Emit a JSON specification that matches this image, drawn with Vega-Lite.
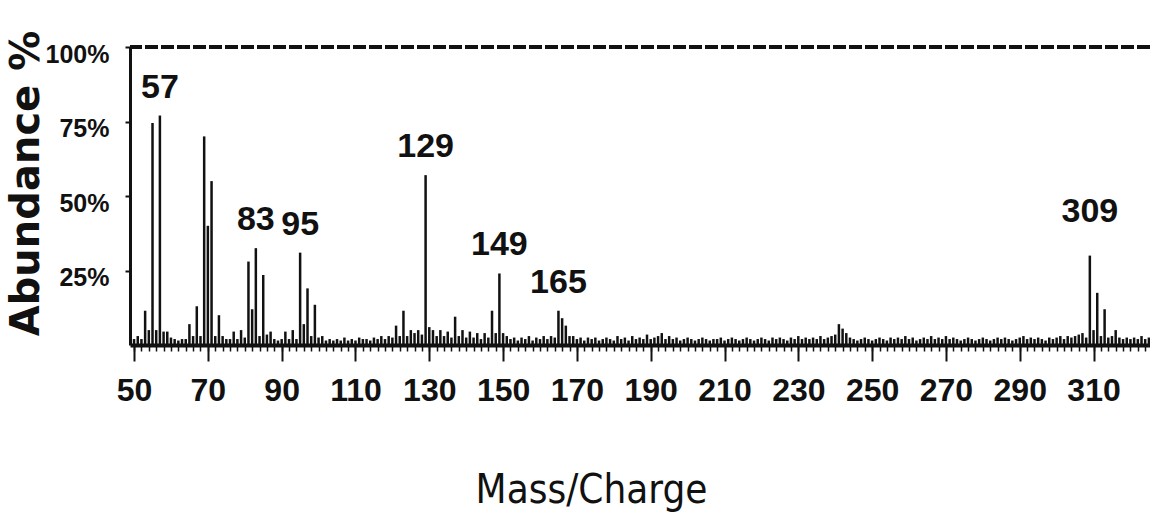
{
"$schema": "https://vega.github.io/schema/vega-lite/v6.json",
"width": 1020,
"height": 298,
"autosize": "none",
"padding": {"left": 130, "top": 47, "right": 0, "bottom": 167},
"background": "white",
"config": {"view": {"stroke": null}, "axis": {"grid": false}},
"data": {"values": [
{"mz":49,"ab":1.5},{"mz":50,"ab":2},{"mz":51,"ab":3},{"mz":52,"ab":2},{"mz":53,"ab":11.5},{"mz":54,"ab":5},{"mz":55,"ab":74.5},{"mz":56,"ab":5},{"mz":57,"ab":77,"label":"57"},{"mz":58,"ab":4.5},{"mz":59,"ab":4.5},
{"mz":60,"ab":2.5},{"mz":61,"ab":2},{"mz":62,"ab":1.5},{"mz":63,"ab":2},{"mz":64,"ab":2},{"mz":65,"ab":7},{"mz":66,"ab":3},{"mz":67,"ab":13},{"mz":68,"ab":3},{"mz":69,"ab":70},
{"mz":70,"ab":40},{"mz":71,"ab":55},{"mz":72,"ab":3},{"mz":73,"ab":10},{"mz":74,"ab":3},{"mz":75,"ab":2},{"mz":76,"ab":2},{"mz":77,"ab":4.5},{"mz":78,"ab":2},{"mz":79,"ab":5},
{"mz":80,"ab":2.5},{"mz":81,"ab":28},{"mz":82,"ab":12},{"mz":83,"ab":32.5,"label":"83"},{"mz":84,"ab":3},{"mz":85,"ab":23.5},{"mz":86,"ab":3.5},{"mz":87,"ab":4.5},{"mz":88,"ab":2},{"mz":89,"ab":1.5},
{"mz":90,"ab":2},{"mz":91,"ab":4.5},{"mz":92,"ab":2},{"mz":93,"ab":5},{"mz":94,"ab":2},{"mz":95,"ab":31,"label":"95"},{"mz":96,"ab":7},{"mz":97,"ab":19},{"mz":98,"ab":3},{"mz":99,"ab":13.5},
{"mz":100,"ab":2.5},{"mz":101,"ab":3},{"mz":102,"ab":1.5},{"mz":103,"ab":2},{"mz":104,"ab":1.5},{"mz":105,"ab":2},{"mz":106,"ab":1.5},{"mz":107,"ab":2.5},{"mz":108,"ab":1.5},{"mz":109,"ab":2},
{"mz":110,"ab":1.5},{"mz":111,"ab":2.5},{"mz":112,"ab":2},{"mz":113,"ab":2},{"mz":114,"ab":1.5},{"mz":115,"ab":2.5},{"mz":116,"ab":2},{"mz":117,"ab":3},{"mz":118,"ab":2},{"mz":119,"ab":3},
{"mz":120,"ab":2.5},{"mz":121,"ab":6.5},{"mz":122,"ab":3},{"mz":123,"ab":11.5},{"mz":124,"ab":3},{"mz":125,"ab":5},{"mz":126,"ab":4},{"mz":127,"ab":5},{"mz":128,"ab":3.5},{"mz":129,"ab":57,"label":"129"},
{"mz":130,"ab":6},{"mz":131,"ab":5},{"mz":132,"ab":3},{"mz":133,"ab":5},{"mz":134,"ab":3},{"mz":135,"ab":4.5},{"mz":136,"ab":2.5},{"mz":137,"ab":9.5},{"mz":138,"ab":3},{"mz":139,"ab":5},
{"mz":140,"ab":2.5},{"mz":141,"ab":4.5},{"mz":142,"ab":2.5},{"mz":143,"ab":4},{"mz":144,"ab":2},{"mz":145,"ab":4},{"mz":146,"ab":2.5},{"mz":147,"ab":11.5},{"mz":148,"ab":4},{"mz":149,"ab":24,"label":"149"},
{"mz":150,"ab":4},{"mz":151,"ab":3},{"mz":152,"ab":2},{"mz":153,"ab":2.5},{"mz":154,"ab":1.5},{"mz":155,"ab":2.5},{"mz":156,"ab":2},{"mz":157,"ab":3},{"mz":158,"ab":1.5},{"mz":159,"ab":2.5},
{"mz":160,"ab":2},{"mz":161,"ab":3},{"mz":162,"ab":2},{"mz":163,"ab":3},{"mz":164,"ab":2.5},{"mz":165,"ab":11.5,"label":"165"},{"mz":166,"ab":9},{"mz":167,"ab":6.5},{"mz":168,"ab":3},{"mz":169,"ab":3},
{"mz":170,"ab":2},{"mz":171,"ab":2.5},{"mz":172,"ab":1.5},{"mz":173,"ab":2.5},{"mz":174,"ab":2},{"mz":175,"ab":2.5},{"mz":176,"ab":1.5},{"mz":177,"ab":2},{"mz":178,"ab":2.5},{"mz":179,"ab":2},
{"mz":180,"ab":1.5},{"mz":181,"ab":3},{"mz":182,"ab":2},{"mz":183,"ab":2.5},{"mz":184,"ab":1.5},{"mz":185,"ab":3},{"mz":186,"ab":2},{"mz":187,"ab":2.5},{"mz":188,"ab":2},{"mz":189,"ab":3.5},
{"mz":190,"ab":2},{"mz":191,"ab":2.5},{"mz":192,"ab":3},{"mz":193,"ab":4},{"mz":194,"ab":2},{"mz":195,"ab":3},{"mz":196,"ab":2},{"mz":197,"ab":2.5},{"mz":198,"ab":1.5},{"mz":199,"ab":2},
{"mz":200,"ab":2.5},{"mz":201,"ab":2},{"mz":202,"ab":1.5},{"mz":203,"ab":2},{"mz":204,"ab":2.5},{"mz":205,"ab":2},{"mz":206,"ab":1.5},{"mz":207,"ab":2},{"mz":208,"ab":2},{"mz":209,"ab":2.5},
{"mz":210,"ab":1.5},{"mz":211,"ab":2},{"mz":212,"ab":2.5},{"mz":213,"ab":2},{"mz":214,"ab":1.5},{"mz":215,"ab":2},{"mz":216,"ab":2.5},{"mz":217,"ab":2},{"mz":218,"ab":1.5},{"mz":219,"ab":2},
{"mz":220,"ab":2.5},{"mz":221,"ab":2},{"mz":222,"ab":1.5},{"mz":223,"ab":2.5},{"mz":224,"ab":2},{"mz":225,"ab":2.5},{"mz":226,"ab":2},{"mz":227,"ab":1.5},{"mz":228,"ab":2.5},{"mz":229,"ab":2},
{"mz":230,"ab":3},{"mz":231,"ab":2},{"mz":232,"ab":2.5},{"mz":233,"ab":2},{"mz":234,"ab":2.5},{"mz":235,"ab":2},{"mz":236,"ab":3},{"mz":237,"ab":2},{"mz":238,"ab":2.5},{"mz":239,"ab":3},
{"mz":240,"ab":3.5},{"mz":241,"ab":7},{"mz":242,"ab":5.5},{"mz":243,"ab":4},{"mz":244,"ab":2.5},{"mz":245,"ab":2},{"mz":246,"ab":1.5},{"mz":247,"ab":2},{"mz":248,"ab":2.5},{"mz":249,"ab":2},
{"mz":250,"ab":1.5},{"mz":251,"ab":2},{"mz":252,"ab":2.5},{"mz":253,"ab":2},{"mz":254,"ab":1.5},{"mz":255,"ab":2.5},{"mz":256,"ab":2},{"mz":257,"ab":2.5},{"mz":258,"ab":2},{"mz":259,"ab":3},
{"mz":260,"ab":2},{"mz":261,"ab":2.5},{"mz":262,"ab":1.5},{"mz":263,"ab":2},{"mz":264,"ab":2.5},{"mz":265,"ab":2},{"mz":266,"ab":3},{"mz":267,"ab":2},{"mz":268,"ab":2.5},{"mz":269,"ab":2},
{"mz":270,"ab":3},{"mz":271,"ab":2},{"mz":272,"ab":2.5},{"mz":273,"ab":2},{"mz":274,"ab":1.5},{"mz":275,"ab":2},{"mz":276,"ab":2.5},{"mz":277,"ab":2},{"mz":278,"ab":1.5},{"mz":279,"ab":2},
{"mz":280,"ab":2.5},{"mz":281,"ab":2},{"mz":282,"ab":1.5},{"mz":283,"ab":2},{"mz":284,"ab":2.5},{"mz":285,"ab":2},{"mz":286,"ab":2.5},{"mz":287,"ab":2},{"mz":288,"ab":1.5},{"mz":289,"ab":2},
{"mz":290,"ab":2.5},{"mz":291,"ab":3},{"mz":292,"ab":2},{"mz":293,"ab":2.5},{"mz":294,"ab":2},{"mz":295,"ab":2.5},{"mz":296,"ab":2},{"mz":297,"ab":1.5},{"mz":298,"ab":2.5},{"mz":299,"ab":2},
{"mz":300,"ab":2.5},{"mz":301,"ab":3},{"mz":302,"ab":2},{"mz":303,"ab":3},{"mz":304,"ab":2.5},{"mz":305,"ab":3},{"mz":306,"ab":3.5},{"mz":307,"ab":4},{"mz":308,"ab":2.5},{"mz":309,"ab":30,"label":"309"},
{"mz":310,"ab":5},{"mz":311,"ab":17.5},{"mz":312,"ab":3},{"mz":313,"ab":12},{"mz":314,"ab":2.5},{"mz":315,"ab":3},{"mz":316,"ab":5},{"mz":317,"ab":2.5},{"mz":318,"ab":2},{"mz":319,"ab":2.5},
{"mz":320,"ab":2},{"mz":321,"ab":2.5},{"mz":322,"ab":2},{"mz":323,"ab":3},{"mz":324,"ab":2},{"mz":325,"ab":2.5}
]},
"layer": [
{"mark": {"type": "rule", "opacity": 0},
 "encoding": {
  "x": {"field": "mz", "type": "quantitative", "scale": {"domain": [48.9, 325.3], "nice": false, "zero": false},
        "axis": {"orient": "bottom", "tickCount": 138, "labels": false, "domain": false, "title": null, "tickSize": 6, "tickWidth": 1.5, "tickColor": "#111"}},
  "y": {"field": "ab", "type": "quantitative"},
  "y2": {"datum": 0}}},
{"mark": {"type": "rule", "color": "#111", "strokeWidth": 2.5},
 "encoding": {
  "x": {"field": "mz", "type": "quantitative", "scale": {"domain": [48.9, 325.3], "nice": false, "zero": false},
        "axis": {"orient": "bottom", "values": [50,70,90,110,130,150,170,190,210,230,250,270,290,310], "format": "d",
                 "title": "Mass/Charge", "titleFont": "DejaVu Sans Condensed, Liberation Sans, sans-serif", "titleFontSize": 40, "titleFontWeight": "normal", "titleColor": "#111",
                 "titleX": 461, "titleY": 157, "titleAlign": "center", "titleBaseline": "alphabetic", "titleAnchor": "start",
                 "labelFont": "Liberation Sans", "labelFontSize": 32, "labelFontWeight": "bold", "labelColor": "#111",
                 "labelPadding": 14, "labelFlush": false, "labelOverlap": false,
                 "tickSize": 16, "tickWidth": 2, "tickColor": "#111", "domainWidth": 4, "domainColor": "#111"}},
  "y": {"field": "ab", "type": "quantitative", "scale": {"domain": [0, 100], "nice": false},
        "axis": {"values": [25, 50, 75, 100], "labelExpr": "datum.value + '%'",
                 "title": "Abundance %", "titleFont": "DejaVu Sans", "titleFontSize": 40, "titleFontWeight": "bold", "titleColor": "#111",
                 "titleAngle": -90, "titleX": -92, "titleY": 136, "titleAlign": "center", "titleBaseline": "alphabetic", "titleAnchor": "start",
                 "labelFont": "Liberation Sans", "labelFontSize": 25, "labelFontWeight": "bold", "labelColor": "#111",
                 "labelOffset": 7, "labelPadding": 16, "labelBaseline": "middle",
                 "tickSize": 5, "tickWidth": 2, "tickColor": "#111", "domainWidth": 3, "domainColor": "#111"}},
  "y2": {"datum": 0}}},
{"mark": {"type": "rule", "color": "#111", "strokeWidth": 4, "strokeDash": [13, 3]},
 "encoding": {"y": {"datum": 100}}},
{"transform": [{"filter": "datum.label && datum.mz < 300"}],
 "mark": {"type": "text", "font": "Liberation Sans", "fontSize": 34, "fontWeight": "bold", "color": "#111", "baseline": "middle", "align": "center", "dy": -28},
 "encoding": {"x": {"field": "mz", "type": "quantitative", "axis": null}, "y": {"field": "ab", "type": "quantitative"}, "text": {"field": "label"}}},
{"transform": [{"filter": "datum.label && datum.mz > 300"}],
 "mark": {"type": "text", "font": "Liberation Sans", "fontSize": 34, "fontWeight": "bold", "color": "#111", "baseline": "middle", "align": "center", "dy": -44},
 "encoding": {"x": {"field": "mz", "type": "quantitative", "axis": null}, "y": {"field": "ab", "type": "quantitative"}, "text": {"field": "label"}}}
],
"resolve": {"axis": {"x": "independent"}}
}
